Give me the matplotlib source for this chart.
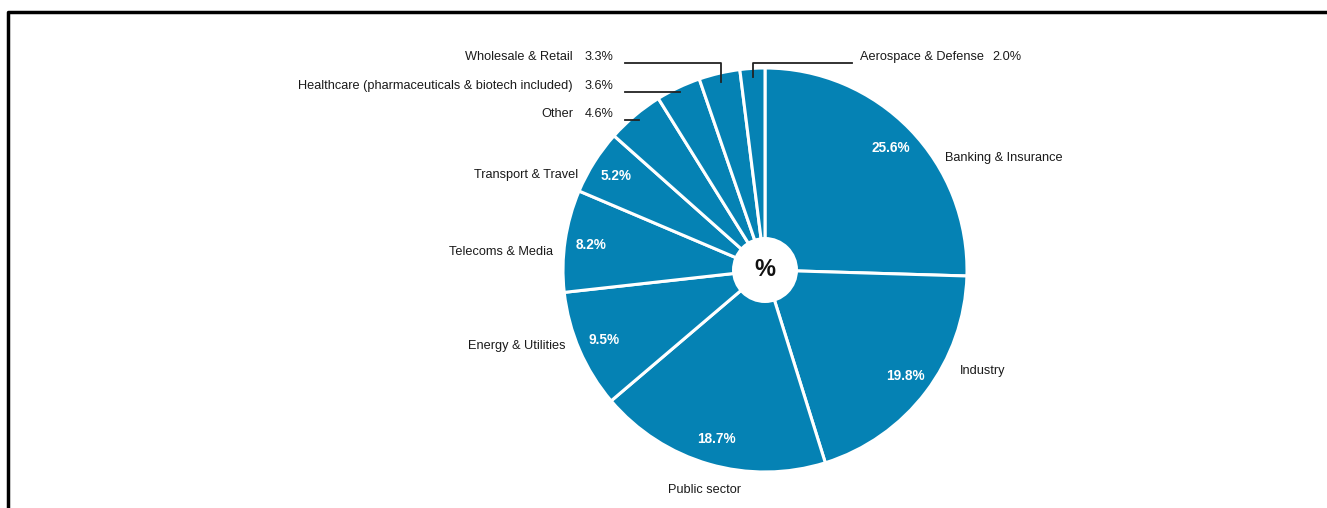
import matplotlib
matplotlib.use("Agg")
from matplotlib import pyplot as plt
from matplotlib.patches import Circle
import numpy as np

plt.rcParams["font.family"] = ["Liberation Sans", "DejaVu Sans"]

# slices, clockwise from 12 o'clock
sectors = ["Banking & Insurance", "Industry", "Public sector", "Energy & Utilities",
           "Telecoms & Media", "Transport & Travel", "Other",
           "Healthcare (pharmaceuticals & biotech included)", "Wholesale & Retail",
           "Aerospace & Defense"]
shares = [25.6, 19.8, 18.7, 9.5, 8.2, 5.2, 4.6, 3.6, 3.3, 2.0]
pct_labels = ["25.6%", "19.8%", "18.7%", "9.5%", "8.2%", "5.2%", "4.6%", "3.6%", "3.3%", "2.0%"]

W, H = 1327, 508
BLUE = "#0582b4"
TXT = "#1a1a1a"
FS = 9.2

fig = plt.figure(figsize=(W / 100, H / 100), dpi=100)
ax = fig.add_axes([0, 0, 1, 1])


def py(y):
    # pixel row (from top) -> data y
    return H - y


cx, cy, R = 765, py(270), 202

wedges, _ = ax.pie(shares, startangle=90, counterclock=False, center=(cx, cy),
                   radius=R, colors=[BLUE] * len(shares),
                   wedgeprops=dict(edgecolor="white", linewidth=2.2),
                   frame=True)
ax.set_xlim(0, W)
ax.set_ylim(0, H)
ax.set_aspect("equal")
ax.axis("off")

ax.add_patch(Circle((cx, cy), 33, facecolor="white", edgecolor="none", zorder=5))
ax.text(cx, cy, "%", ha="center", va="center", fontsize=17, fontweight="bold",
        color="#111111", zorder=6)

mids = [np.deg2rad((w.theta1 + w.theta2) / 2) for w in wedges]

# big slices: value inside, name outside
outer = {
    0: (945, 158, "left"),
    1: (960, 371, "left"),
    2: (705, 490, "center"),
    3: (566, 346, "right"),
    4: (553, 252, "right"),
    5: (578, 175, "right"),
}
for i, (x, y, ha) in outer.items():
    a = mids[i]
    ax.text(cx + 0.87 * R * np.cos(a), cy + 0.87 * R * np.sin(a), pct_labels[i],
            ha="center", va="center", color="white", fontsize=9.8, fontweight="bold")
    ax.text(x, py(y), sectors[i], ha=ha, va="center", color=TXT, fontsize=FS)

# small slices: leader lines
lc = "#222222"
for i, row in [(6, 120), (7, 92)]:
    a = mids[i]
    ey = py(row)
    ex = cx + (ey - cy) / np.tan(a)
    ax.plot([625, ex], [ey, ey], color=lc, lw=1.3, zorder=4)
    ax.text(573, ey + 6, sectors[i], ha="right", va="center", color=TXT, fontsize=FS)
    ax.text(585, ey + 6, pct_labels[i], ha="left", va="center", color=TXT, fontsize=FS)

a = mids[8]
ex, ey = cx + 0.955 * R * np.cos(a), cy + 0.955 * R * np.sin(a)
ax.plot([625, ex, ex], [py(63), py(63), ey], color=lc, lw=1.3, zorder=4)
ax.text(573, py(57), sectors[8], ha="right", va="center", color=TXT, fontsize=FS)
ax.text(585, py(57), pct_labels[8], ha="left", va="center", color=TXT, fontsize=FS)

a = mids[9]
ex, ey = cx + 0.955 * R * np.cos(a), cy + 0.955 * R * np.sin(a)
ax.plot([852, ex, ex], [py(63), py(63), ey], color=lc, lw=1.3, zorder=4)
ax.text(860, py(57), sectors[9], ha="left", va="center", color=TXT, fontsize=FS)
ax.text(992, py(57), pct_labels[9], ha="left", va="center", color=TXT, fontsize=FS)

# frame (left and top edges)
ax.plot([8, 8, W], [0, py(12), py(12)], color="black", lw=2.5, clip_on=False)

fig.savefig("out.png", dpi=100)
